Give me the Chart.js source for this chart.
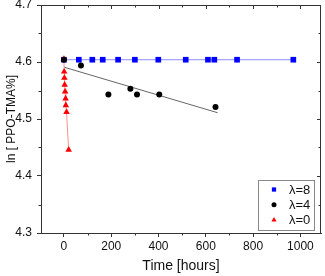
<!DOCTYPE html>
<html>
<head>
<meta charset="utf-8">
<script src="https://cdn.jsdelivr.net/npm/chart.js@4"></script>
<style>
body { margin: 0; background: #fff; }
canvas { display: block; }
</style>
</head>
<body>
<canvas id="myChart" width="325" height="276"></canvas>
<script>
// lambda = 8
var hours8 = [0, 63, 120, 164, 229, 300, 399, 515, 609, 636, 732, 970];
var ln8 = [4.604, 4.604, 4.604, 4.604, 4.604, 4.604, 4.604, 4.604, 4.604, 4.604, 4.604, 4.604];
// lambda = 4
var hours4 = [0, 72, 188, 281, 309, 403, 641];
var ln4 = [4.604, 4.594, 4.543, 4.553, 4.543, 4.543, 4.521];
// linear fit of lambda = 4
var fitHours = [0, 650];
var fitLn = [4.591, 4.511];
// lambda = 0
var hours0 = [0, 1, 2, 3, 5, 7, 8, 11, 20];
var ln0 = [4.605, 4.583, 4.572, 4.560, 4.548, 4.536, 4.524, 4.512, 4.446];

var seriesLabels = ['\u03bb=8', '\u03bb=4', '\u03bb=0'];
var xTicks = [0, 200, 400, 600, 800, 1000];
var xMinor = [-100, 100, 300, 500, 700, 900, 1100];
var yTicks = [4.3, 4.4, 4.5, 4.6, 4.7];
var yMinor = [4.35, 4.45, 4.55, 4.65];

function pts(xs, ys) {
    return xs.map((x, i) => ({ x: x, y: ys[i] }));
}

var axisColor = '#333';
var font = 'Liberation Sans, Arial, sans-serif';

// frame on top/right, inner ticks and minor ticks, legend box
var framePlugin = {
    id: 'frame',
    afterDraw(chart) {
        var ctx = chart.ctx;
        var a = chart.chartArea;
        var xs = chart.scales.x, ys = chart.scales.y;
        ctx.save();
        ctx.strokeStyle = axisColor;
        ctx.lineWidth = 1;
        ctx.beginPath();
        ctx.moveTo(a.left, a.top + 0.5);
        ctx.lineTo(a.right, a.top + 0.5);
        ctx.moveTo(a.right - 0.5, a.top);
        ctx.lineTo(a.right - 0.5, a.bottom);
        xTicks.forEach(v => {
            var p = Math.round(xs.getPixelForValue(v)) + 0.5;
            ctx.moveTo(p, a.top); ctx.lineTo(p, a.top + 4);
        });
        xMinor.forEach(v => {
            var p = Math.round(xs.getPixelForValue(v)) + 0.5;
            if (p < a.left || p > a.right) return;
            ctx.moveTo(p, a.top); ctx.lineTo(p, a.top + 2.5);
            ctx.moveTo(p, a.bottom); ctx.lineTo(p, a.bottom + 2.5);
        });
        yTicks.forEach(v => {
            var p = Math.round(ys.getPixelForValue(v)) + 0.5;
            ctx.moveTo(a.right, p); ctx.lineTo(a.right - 4, p);
        });
        yMinor.forEach(v => {
            var p = Math.round(ys.getPixelForValue(v)) + 0.5;
            ctx.moveTo(a.right, p); ctx.lineTo(a.right - 2.5, p);
            ctx.moveTo(a.left, p); ctx.lineTo(a.left - 2.5, p);
        });
        ctx.stroke();

        // legend
        var bx = 258.5, by = 180.5, bw = 56, bh = 50;
        ctx.fillStyle = '#fff';
        ctx.fillRect(bx, by, bw, bh);
        ctx.strokeStyle = '#888';
        ctx.strokeRect(bx, by, bw, bh);
        var order = [0, 1, 3];
        ctx.font = '13px ' + font;
        ctx.textBaseline = 'middle';
        ctx.textAlign = 'left';
        order.forEach((di, i) => {
            var ds = chart.data.datasets[di];
            var y = by + 9 + i * 15.3;
            ctx.fillStyle = ds.pointBackgroundColor;
            ctx.strokeStyle = ds.pointBorderColor;
            Chart.helpers.drawPoint(ctx, {
                pointStyle: ds.pointStyle,
                radius: ds.pointStyle === 'circle' ? 2.5 : 3,
                rotation: 0,
                borderWidth: 0
            }, 274, y);
            ctx.fillStyle = '#111';
            ctx.fillText(seriesLabels[i], 289, y + 0.5);
        });
        ctx.restore();
    }
};

var ctx = document.getElementById('myChart').getContext('2d');

var myChart = new Chart(ctx, {
    type: 'scatter',
    data: {
        datasets: [{
            label: seriesLabels[0],
            data: pts(hours8, ln8),
            showLine: true,
            borderColor: '#8c8cff',
            borderWidth: 1,
            pointStyle: 'rect',
            pointRadius: 4,
            pointBackgroundColor: '#0000ff',
            pointBorderColor: '#0000ff',
            pointBorderWidth: 0,
            order: 3
        }, {
            label: seriesLabels[1],
            data: pts(hours4, ln4),
            showLine: false,
            pointStyle: 'circle',
            pointRadius: 3,
            pointBackgroundColor: '#000',
            pointBorderColor: '#000',
            pointBorderWidth: 0,
            order: 1
        }, {
            label: 'fit',
            data: pts(fitHours, fitLn),
            showLine: true,
            borderColor: '#666',
            borderWidth: 1,
            pointRadius: 0,
            order: 4
        }, {
            label: seriesLabels[2],
            data: pts(hours0, ln0),
            showLine: true,
            borderColor: '#ff9090',
            borderWidth: 1,
            pointStyle: 'triangle',
            pointRadius: 3.8,
            pointBackgroundColor: '#ff0000',
            pointBorderColor: '#ff0000',
            pointBorderWidth: 0,
            order: 2
        }]
    },
    options: {
        responsive: false,
        animation: false,
        devicePixelRatio: 1,
        layout: { padding: { top: 5, right: 3, left: 0, bottom: 0 } },
        plugins: {
            legend: { display: false },
            tooltip: { enabled: false }
        },
        scales: {
            x: {
                type: 'linear',
                min: -97,
                max: 1087,
                afterBuildTicks: s => { s.ticks = xTicks.map(v => ({ value: v })); },
                afterFit: s => { s.height = 43; s.paddingLeft = 0; s.paddingRight = 0; },
                grid: { drawOnChartArea: false, drawTicks: true, tickLength: 4, color: axisColor },
                border: { display: true, color: axisColor, width: 1 },
                ticks: {
                    padding: 2,
                    color: '#111',
                    font: { family: font, size: 12 },
                    maxRotation: 0,
                    callback: v => String(v)
                },
                title: {
                    display: true,
                    text: 'Time [hours]',
                    color: '#111',
                    font: { family: font, size: 14 },
                    padding: { top: 0, bottom: 1 }
                }
            },
            y: {
                min: 4.3,
                max: 4.7,
                afterBuildTicks: s => { s.ticks = yTicks.map(v => ({ value: v })); },
                afterFit: s => { s.width = 41; s.paddingTop = 0; s.paddingBottom = 0; },
                grid: { drawOnChartArea: false, drawTicks: true, tickLength: 4, color: axisColor },
                border: { display: true, color: axisColor, width: 1 },
                ticks: {
                    padding: 5,
                    color: '#111',
                    font: { family: font, size: 12 },
                    callback: v => v.toFixed(1)
                },
                title: {
                    display: true,
                    text: 'ln [ PPO-TMA%]',
                    color: '#111',
                    font: { family: font, size: 12 },
                    padding: { top: 4, bottom: 2 }
                }
            }
        }
    },
    plugins: [framePlugin]
});
</script>
</body>
</html>
